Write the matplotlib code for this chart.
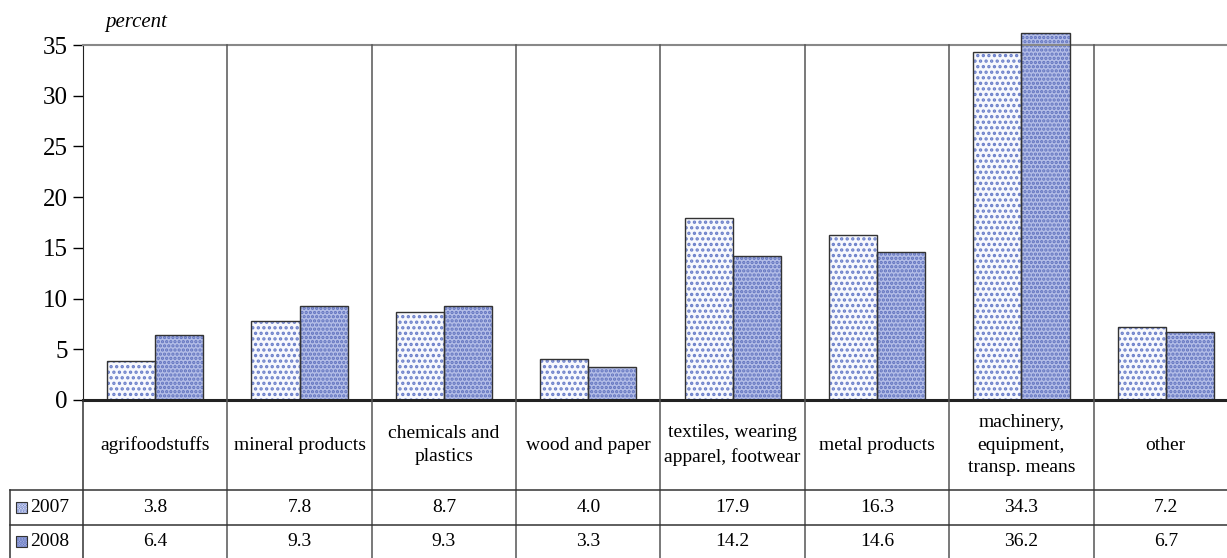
import matplotlib.pyplot as plt
import matplotlib.transforms as mtransforms
from matplotlib.patches import Rectangle
import numpy as np

# Share of exports by product group, 2007 vs 2008
categories = ["agrifoodstuffs", "mineral products", "chemicals and\nplastics",
              "wood and paper", "textiles, wearing\napparel, footwear",
              "metal products", "machinery,\nequipment,\ntransp. means", "other"]
years = ["2007", "2008"]
v2007 = [3.8, 7.8, 8.7, 4.0, 17.9, 16.3, 34.3, 7.2]
v2008 = [6.4, 9.3, 9.3, 3.3, 14.2, 14.6, 36.2, 6.7]
yticks = [0, 5, 10, 15, 20, 25, 30, 35]

plt.rcParams['font.family'] = ['Liberation Serif', 'DejaVu Serif']
plt.rcParams['hatch.linewidth'] = 1.6

W, H = 1227, 558
fig = plt.figure(figsize=(W / 100, H / 100), dpi=100)
# last column runs a little past the right edge of the figure
ax = fig.add_axes([83 / W, (H - 400) / H, (1238 - 83) / W, 355 / H])

x = np.arange(len(categories))
bw = 0.333
styles = {
    "2007": dict(face="#f7f8fd", hatch="...", hcol="#6a7ec9"),
    "2008": dict(face="#b3bde7", hatch="....", hcol="#6072be"),
}

def draw_bars(xs, vals, st):
    # fill + hatch first, then a dark outline on top
    ax.bar(xs, vals, bw, color=st["face"], hatch=st["hatch"],
           edgecolor=st["hcol"], linewidth=0, clip_on=False, zorder=2)
    ax.bar(xs, vals, bw, fill=False, edgecolor="#333333",
           linewidth=1.0, clip_on=False, zorder=3)

draw_bars(x - bw / 2, v2007, styles["2007"])
draw_bars(x + bw / 2, v2008, styles["2008"])

ax.set_xlim(-0.5, len(categories) - 0.5)
ax.set_ylim(0, 35)
ax.set_yticks(yticks)
ax.tick_params(axis='y', direction='out', length=7, width=1, labelsize=18, pad=4)
ax.set_xticks([])

for s in ["right", "bottom"]:
    ax.spines[s].set_visible(False)
ax.spines["top"].set_color("#888888")
ax.spines["top"].set_linewidth(1.5)
ax.spines["left"].set_color("#222222")
ax.axhline(0, color="#222222", lw=2.2, zorder=4, clip_on=False)

fig.text(105 / W, 1 - 22 / H, "percent", fontsize=15, style="italic",
         va="center")

# table below the axis: header row with category names, then one row per year
trans = mtransforms.blended_transform_factory(ax.transData, fig.transFigure)
tfig = fig.transFigure
def fy(py):
    return 1 - py / H

# vertical separators between categories, from top of plot to bottom of table
for i in range(1, len(categories)):
    fig.add_artist(plt.Line2D([i - 0.5, i - 0.5], [fy(45), fy(H)],
                              transform=trans, color="#555555", lw=1.1))
fig.add_artist(plt.Line2D([83 / W, 83 / W], [fy(400), fy(H)],
                          transform=tfig, color="#333333", lw=1.1))
# row rules
for py in [490, 525]:
    fig.add_artist(plt.Line2D([10 / W, 1], [fy(py), fy(py)],
                              transform=tfig, color="#333333", lw=1.1))
fig.add_artist(plt.Line2D([10 / W, 10 / W], [fy(490), fy(H)],
                          transform=tfig, color="#333333", lw=1.1))

for i, c in enumerate(categories):
    fig.text(i, fy(445), c, transform=trans, ha="center", va="center",
             fontsize=14, linespacing=1.45)
    fig.text(i, fy(508), f"{v2007[i]:.1f}", transform=trans, ha="center",
             va="center", fontsize=14)
    fig.text(i, fy(542), f"{v2008[i]:.1f}", transform=trans, ha="center",
             va="center", fontsize=14)

# row labels with legend swatches
for yr, py in zip(years, [508, 542]):
    st = styles[yr]
    fig.add_artist(Rectangle((16 / W, fy(py + 5)), 11 / W, 11 / H,
                             transform=tfig, facecolor=st["face"],
                             hatch="......", edgecolor=st["hcol"], lw=0))
    fig.add_artist(Rectangle((16 / W, fy(py + 5)), 11 / W, 11 / H,
                             transform=tfig, fill=False,
                             edgecolor="#333333", lw=0.8))
    fig.text(30 / W, fy(py), yr, ha="left", va="center", fontsize=14)

fig.savefig("out.png", dpi=100)
